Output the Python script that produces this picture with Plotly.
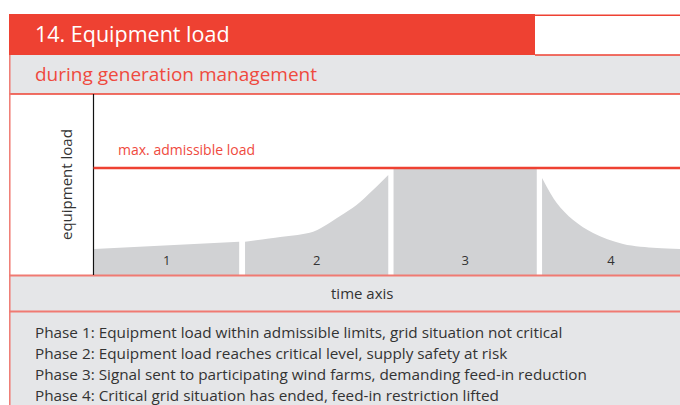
import plotly.graph_objects as go

# ---- data (time in % of axis, load in % of max admissible load) ----
max_load = 100
phase_labels = ["1", "2", "3", "4"]
p1_t = [0.2, 12.5, 24.9]
p1_load = [24.3, 27.6, 31.1]
p2_t = [25.9, 31.9, 37.5, 40.0, 42.1, 44.9, 47.7, 50.3]
p2_load = [31.1, 35.5, 40.5, 47.7, 55.1, 65.4, 79.4, 93.5]
p3_t = [51.2, 75.6]
p3_load = [99, 99]
p4_t = [76.5, 79.0, 81.8, 85.2, 90.3, 96.1, 100]
p4_load = [90.7, 67.3, 51.4, 39.3, 29.0, 25.2, 24.3]
phase_notes = [
    "Phase 1: Equipment load within admissible limits, grid situation not critical",
    "Phase 2: Equipment load reaches critical level, supply safety at risk",
    "Phase 3: Signal sent to participating wind farms, demanding feed-in reduction",
    "Phase 4: Critical grid situation has ended, feed-in restriction lifted",
]

W, H = 680, 405
RED = "#EE4132"
SALMON = "#F07A72"
GREY = "#E5E6E8"
FILL = "#D1D2D4"
TXT = "#333333"
FONT = "Open Sans"


def px(x):
    return x / W


def py(y):
    return (H - y) / H


fig = go.Figure()
phases = [(p1_t, p1_load, "linear"), (p2_t, p2_load, "spline"),
          (p3_t, p3_load, "linear"), (p4_t, p4_load, "spline")]
for t, load, shape in phases:
    fig.add_trace(go.Scatter(x=t, y=load, mode="lines", fill="tozeroy",
                             fillcolor=FILL, line=dict(width=0, shape=shape),
                             hoverinfo="skip", showlegend=False))

# phase numbers
centers = [(p1_t[0] + p1_t[-1]) / 2, (p2_t[0] + p2_t[-1]) / 2,
           (p3_t[0] + p3_t[-1]) / 2, (p4_t[0] + p4_t[-1]) / 2]
fig.add_trace(go.Scatter(x=centers, y=[12] * 4, mode="text", text=phase_labels,
                         textfont=dict(family=FONT, size=13, color=TXT),
                         hoverinfo="skip", showlegend=False))

shapes = []
# title red box
shapes.append(dict(type="rect", xref="paper", yref="paper", x0=px(9), x1=px(535),
                   y0=py(55), y1=py(14), fillcolor=RED, line=dict(width=0), layer="below"))
# top-right outline
shapes.append(dict(type="line", xref="paper", yref="paper", x0=px(535), x1=px(680),
                   y0=py(15.3), y1=py(15.3), line=dict(color=RED, width=1.5)))
# subtitle grey band
shapes.append(dict(type="rect", xref="paper", yref="paper", x0=px(9), x1=px(680),
                   y0=py(94), y1=py(55), fillcolor=GREY, line=dict(width=0), layer="below"))
shapes.append(dict(type="line", xref="paper", yref="paper", x0=px(535), x1=px(680),
                   y0=py(55), y1=py(55), line=dict(color=RED, width=1.5)))
shapes.append(dict(type="line", xref="paper", yref="paper", x0=px(9), x1=px(680),
                   y0=py(94), y1=py(94), line=dict(color=RED, width=1.5)))
# bottom bands
shapes.append(dict(type="rect", xref="paper", yref="paper", x0=px(9), x1=px(680),
                   y0=0, y1=py(275.5), fillcolor=GREY, line=dict(width=0), layer="below"))
shapes.append(dict(type="line", xref="paper", yref="paper", x0=px(9), x1=px(680),
                   y0=py(275.5), y1=py(275.5), line=dict(color=SALMON, width=2)))
shapes.append(dict(type="line", xref="paper", yref="paper", x0=px(9), x1=px(680),
                   y0=py(311.5), y1=py(311.5), line=dict(color=SALMON, width=2)))
# left border
shapes.append(dict(type="line", xref="paper", yref="paper", x0=px(9.8), x1=px(9.8),
                   y0=0, y1=py(55), line=dict(color=SALMON, width=1.5)))
# y axis line
shapes.append(dict(type="line", xref="paper", yref="paper", x0=px(93.5), x1=px(93.5),
                   y0=py(275), y1=py(94), line=dict(color="#111111", width=1.2)))
# max admissible load line
shapes.append(dict(type="line", xref="paper", yref="y", x0=px(93.5), x1=1,
                   y0=max_load, y1=max_load, line=dict(color=RED, width=2.5), layer="above"))

ann = []
ann.append(dict(text="14. Equipment load", xref="paper", yref="paper", x=px(33), y=py(34),
                xanchor="left", yanchor="middle", showarrow=False,
                font=dict(family=FONT, size=21.5, color="white")))
ann.append(dict(text="during generation management", xref="paper", yref="paper", x=px(33), y=py(74),
                xanchor="left", yanchor="middle", showarrow=False,
                font=dict(family=FONT, size=19, color="#EF4A3E")))
ann.append(dict(text="max. admissible load", xref="paper", yref="paper", x=px(116), y=py(149),
                xanchor="left", yanchor="middle", showarrow=False,
                font=dict(family=FONT, size=14, color="#EF4A3E")))
ann.append(dict(text="equipment load", xref="paper", yref="paper", x=px(66), y=py(185),
                xanchor="center", yanchor="middle", showarrow=False, textangle=-90,
                font=dict(family=FONT, size=15, color=TXT)))
ann.append(dict(text="time axis", xref="paper", yref="paper", x=px(362), y=py(293),
                xanchor="center", yanchor="middle", showarrow=False,
                font=dict(family=FONT, size=15, color=TXT)))
for i, note in enumerate(phase_notes):
    ann.append(dict(text=note, xref="paper", yref="paper", x=px(33), y=py(332 + 21 * i),
                    xanchor="left", yanchor="middle", showarrow=False,
                    font=dict(family=FONT, size=15.3, color=TXT)))

fig.update_layout(
    width=W, height=H, margin=dict(l=0, r=0, t=0, b=0),
    paper_bgcolor="white", plot_bgcolor="white",
    xaxis=dict(domain=[px(93), 1], range=[0, 100], visible=False, fixedrange=True),
    yaxis=dict(domain=[py(275), py(94)], range=[0, 181 / 107 * 100], visible=False, fixedrange=True),
    shapes=shapes, annotations=ann, showlegend=False,
)

fig.write_html("out.html", config={"displayModeBar": False},
               post_script="document.body.style.margin='0';document.body.style.overflow='hidden';")
